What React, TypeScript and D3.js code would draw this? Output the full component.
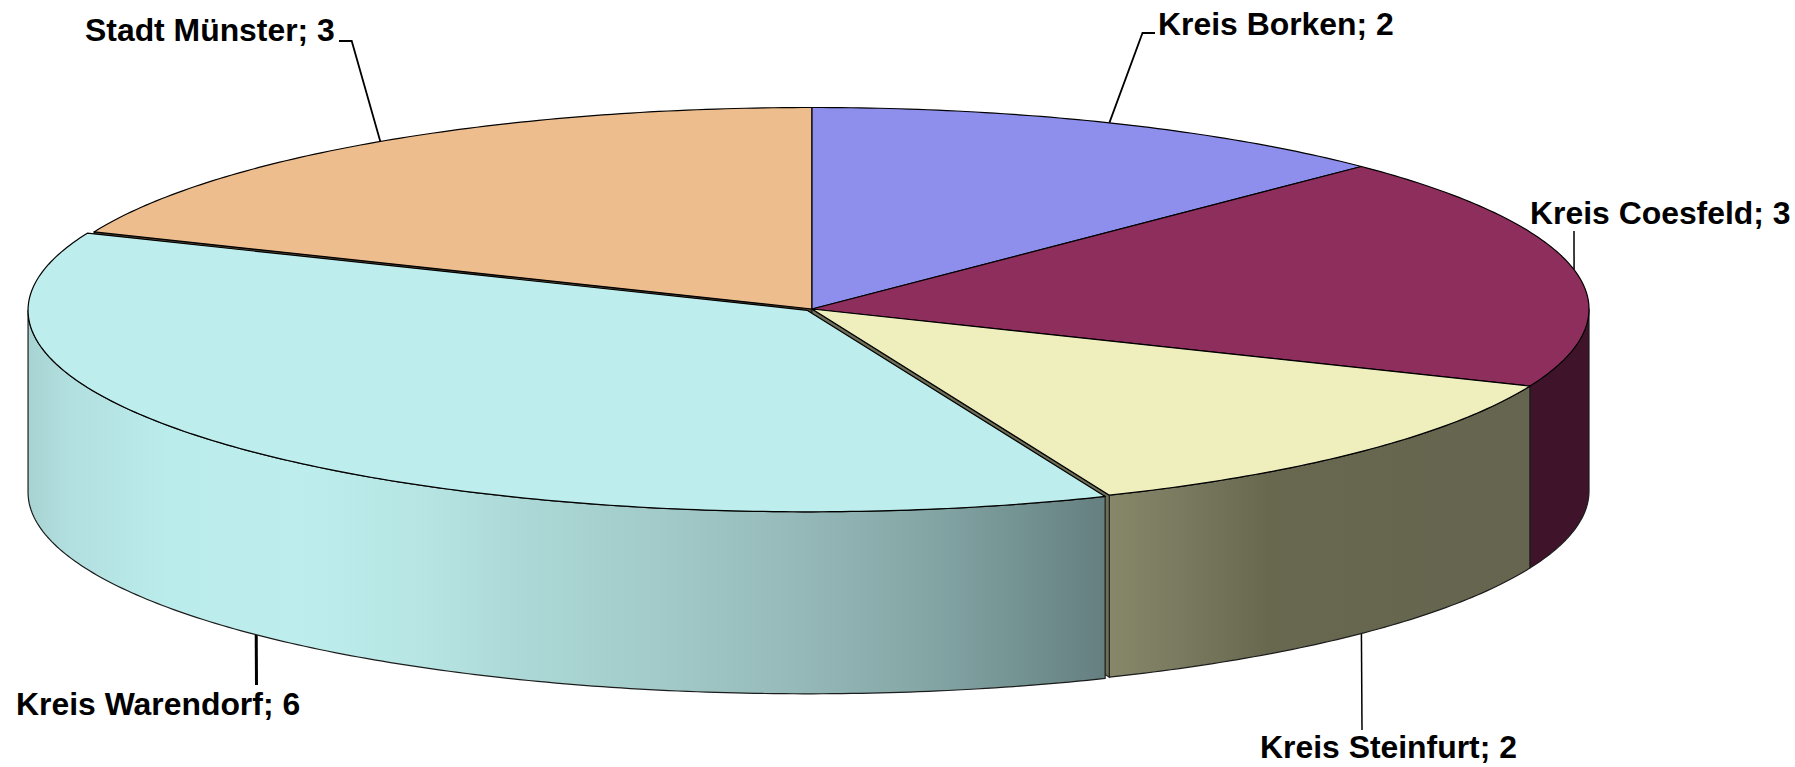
import React from "react";
import * as d3 from "d3";

const categories = ["Kreis Borken", "Kreis Coesfeld", "Kreis Steinfurt", "Kreis Warendorf", "Stadt Münster"];
const values = [2, 3, 2, 6, 3];
const topColors = ["#8e8eec", "#8e2e5c", "#efeebd", "#bdeeed", "#edbd8e"];
const explode = [0, 0, 0, 7, 0];
const radiusGrow = [0, 0, 0, 2, 0];
const radialColors = ["none", "none", "#6f6f58", "none", "#5c4a34"];

// side-wall gradient stops: [x px, colour]
const wallStops: [number, string][][] = [
  [[0, "#47472f"], [1, "#47472f"]],
  [[1530, "#3f142b"], [1590, "#3f142b"]],
  [[1109, "#878769"], [1180, "#7a7a60"], [1270, "#68684f"], [1530, "#656550"]],
  [[28, "#a8d3d3"], [70, "#b2dfdf"], [170, "#bbecec"], [300, "#bdeeed"], [420, "#b6e5e3"], [530, "#abd8d6"], [680, "#a0c8c6"], [800, "#95b9b8"], [920, "#85a8a7"], [1040, "#708e8e"], [1105, "#667f80"]],
  [[0, "#555555"], [1, "#555555"]],
];

// label layout: text x, baseline y, elbow points from the anchor to the text
const labelLayout = [
  { x: 1158, y: 35, bend: [[1142.5, 33], [1155, 33]], w: 1.8 },
  { x: 1530, y: 224, bend: [[1574, 231]], w: 1.5 },
  { x: 1260, y: 758, bend: [[1362, 730]], w: 1.5 },
  { x: 16, y: 715, bend: [[256.5, 685]], w: 3 },
  { x: 85, y: 41, bend: [[351.7, 41], [339, 41]], w: 1.8 },
];

const W = 1795;
const H = 767;
const CX = 812;
const CY = 309;
const RX = 777;
const RY = 201.5;
const DEPTH = 182;

const pie = d3.pie<number>().sort(null).startAngle(0).endAngle(2 * Math.PI);
const arcs = pie(values);
const line = d3.line<[number, number]>();

function centre(i: number): [number, number] {
  const mid = (arcs[i].startAngle + arcs[i].endAngle) / 2;
  return [CX + explode[i] * Math.sin(mid), CY - (explode[i] * Math.cos(mid) * RY) / RX];
}
function pt(i: number, t: number, dy = 0): [number, number] {
  const [cx, cy] = centre(i);
  return [cx + (RX + radiusGrow[i]) * Math.sin(t), cy - RY * Math.cos(t) + dy];
}
function arcPts(i: number, a: number, b: number, dy = 0): [number, number][] {
  const n = Math.max(2, Math.ceil(Math.abs(b - a) * 80));
  return d3.range(n + 1).map((k) => pt(i, a + ((b - a) * k) / n, dy));
}
function topPath(i: number): string {
  return line([centre(i), ...arcPts(i, arcs[i].startAngle, arcs[i].endAngle)])! + "Z";
}
function wallPath(i: number): string | null {
  const a = Math.max(arcs[i].startAngle, Math.PI / 2);
  const b = Math.min(arcs[i].endAngle, (3 * Math.PI) / 2);
  if (b <= a) return null;
  return line([...arcPts(i, a, b), ...arcPts(i, b, a, DEPTH)])! + "Z";
}
function radialPath(i: number): string {
  const t = i === 2 ? arcs[i].endAngle : arcs[i].startAngle;
  const c = centre(i);
  const e = pt(i, t);
  return line([c, e, [e[0], e[1] + DEPTH], [c[0], c[1] + DEPTH]])! + "Z";
}
function anchor(i: number): [number, number] {
  const mid = (arcs[i].startAngle + arcs[i].endAngle) / 2;
  const front = mid > Math.PI / 2 && mid < (3 * Math.PI) / 2;
  return pt(i, mid, front ? DEPTH : 0);
}

const drawOrder = [4, 0, 1, 2, 3];

export default function App() {
  return (
    <svg
      width={W}
      height={H}
      viewBox={`0 0 ${W} ${H}`}
      style={{ position: "absolute", left: 0, top: 0, display: "block", background: "#fff" }}
    >
      <defs>
        {wallStops.map((stops, i) => {
          const x0 = stops[0][0];
          const x1 = stops[stops.length - 1][0];
          return (
            <linearGradient key={i} id={`wall${i}`} gradientUnits="userSpaceOnUse" x1={x0} x2={x1} y1={0} y2={0}>
              {stops.map(([x, c], k) => (
                <stop key={k} offset={(x - x0) / (x1 - x0)} stopColor={c} />
              ))}
            </linearGradient>
          );
        })}
      </defs>
      {labelLayout.map((l, i) => (
        <path
          key={i}
          d={line([anchor(i), ...(l.bend as [number, number][])])!}
          fill="none"
          stroke="#000"
          strokeWidth={l.w}
        />
      ))}
      {drawOrder.map((i) => {
        const wall = wallPath(i);
        return (
          <g key={categories[i]}>
            {radialColors[i] !== "none" && i === 4 && (
              <path d={radialPath(i)} fill={radialColors[i]} stroke="#111" strokeWidth={1.2} />
            )}
            {wall && <path d={wall} fill={`url(#wall${i})`} stroke="#1c1c1c" strokeWidth={1.2} strokeLinejoin="round" />}
            {radialColors[i] !== "none" && i === 2 && (
              <path d={radialPath(i)} fill={radialColors[i]} stroke="#222" strokeWidth={1.2} />
            )}
            <path d={topPath(i)} fill={topColors[i]} stroke="#000" strokeWidth={1.2} strokeLinejoin="round" />
          </g>
        );
      })}
      {labelLayout.map((l, i) => (
        <text
          key={i}
          x={l.x}
          y={l.y}
          fontFamily="'Liberation Sans', Arial, sans-serif"
          fontWeight="700"
          fontSize={31.9}
          fill="#000"
        >
          {`${categories[i]}; ${values[i]}`}
        </text>
      ))}
    </svg>
  );
}
